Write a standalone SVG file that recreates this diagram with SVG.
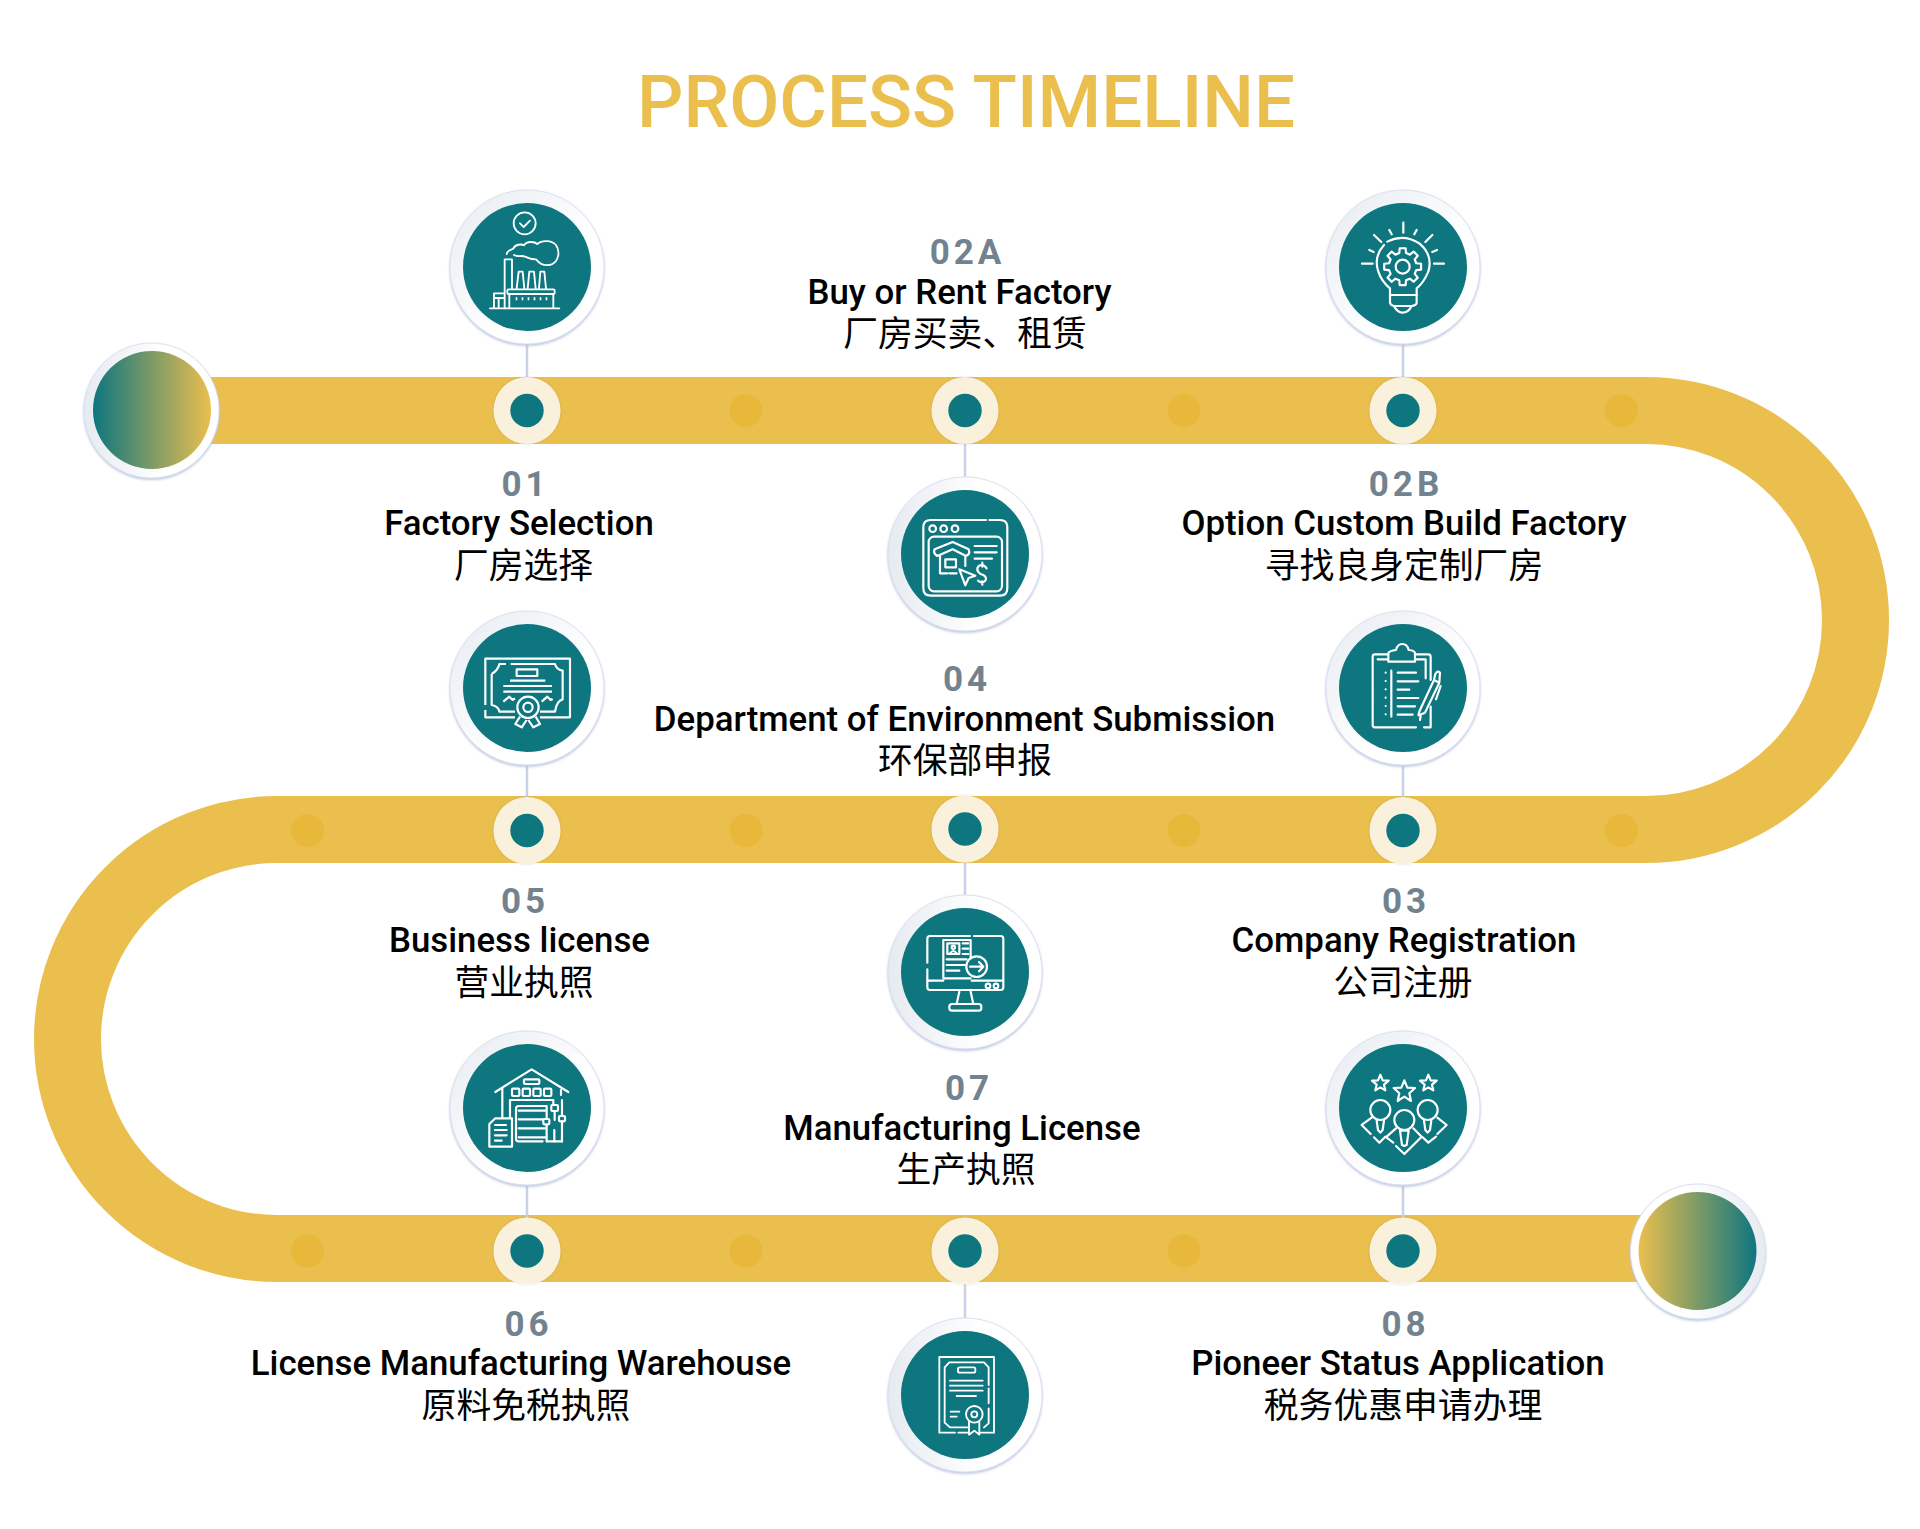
<svg xmlns="http://www.w3.org/2000/svg" width="1920" height="1529" viewBox="0 0 1920 1529">
<style>
.ring{stroke:#dbe1ef;stroke-width:1;filter:url(#sh)}
.disc{fill:#0e767f}
.cream{fill:#fbf4e2;fill-opacity:.96;filter:url(#ds)}
.pt{fill:#0e767f}
.mini{fill:#e8b83a}
.cn{stroke:#c8d1e5;stroke-width:2.5;fill:none}
.ic{fill:none;stroke:#fff;stroke-width:6.5;stroke-linecap:round;stroke-linejoin:round}
.num{font:700 35px Roboto,"Liberation Sans",sans-serif;fill:#72838f;letter-spacing:4px;text-anchor:middle}
.ttl{font:500 34.8px Roboto,"Liberation Sans",sans-serif;fill:#000;text-anchor:middle}
.zh{font:400 34.8px "Noto Sans CJK SC",sans-serif;fill:#000;text-anchor:middle}
.head{font:500 72.8px Roboto,"Liberation Sans",sans-serif;fill:#ebbf4e;text-anchor:middle}
</style>
<defs>
<linearGradient id="gd" x1="0" y1="0" x2="1" y2="1"><stop offset="0" stop-color="#e6ebf1"/><stop offset=".6" stop-color="#fff"/></linearGradient>
<linearGradient id="gh" x1="0" y1="0" x2="1" y2="0"><stop offset="0" stop-color="#e6ebf1"/><stop offset=".6" stop-color="#fff"/></linearGradient>
<linearGradient id="gr" x1="1" y1="0" x2="0" y2="0"><stop offset="0" stop-color="#e6ebf1"/><stop offset=".6" stop-color="#fff"/></linearGradient>
<linearGradient id="g1"><stop offset="0" stop-color="#0e767f"/><stop offset="1" stop-color="#ebbf4e"/></linearGradient>
<linearGradient id="g2"><stop offset="0" stop-color="#ebbf4e"/><stop offset="1" stop-color="#0e767f"/></linearGradient>
<filter id="sh" x="-10%" y="-10%" width="120%" height="125%"><feDropShadow dx="0" dy="1.5" stdDeviation="1" flood-color="#b4c0de" flood-opacity=".9"/></filter>
<filter id="ds" x="-10%" y="-10%" width="120%" height="120%"><feDropShadow dx="0" dy="0" stdDeviation="1" flood-color="#000" flood-opacity=".18"/></filter>
</defs>
<rect width="1920" height="1529" fill="#fff"/>
<text class="head" x="966" y="127">PROCESS TIMELINE</text>
<g id="track">
<path d="M150 410.5H1646A209.5 209.5 0 0 1 1646 829.5H277A209.5 209.5 0 0 0 277 1248.5H1700" fill="none" stroke="#ebbf4e" stroke-width="67"/>
<g class="mini">
<circle cx="746" cy="410.5" r="16.5"/><circle cx="1184" cy="410.5" r="16.5"/><circle cx="1621.5" cy="410.5" r="16.5"/>
<circle cx="307.5" cy="830.5" r="16.5"/><circle cx="746" cy="830.5" r="16.5"/><circle cx="1184" cy="830.5" r="16.5"/><circle cx="1621.5" cy="830.5" r="16.5"/>
<circle cx="307.5" cy="1251" r="16.5"/><circle cx="746" cy="1251" r="16.5"/><circle cx="1184" cy="1251" r="16.5"/>
</g>
</g>
<g id="connectors">
<path class="cn" d="M527 344V410M1403 344V410M965 410V477M527 765V830M1403 765V830M965 829V895M527 1185V1250M1403 1185V1250M965 1250V1318"/>
</g>
<g id="dots">
<circle class="cream" cx="527" cy="410.5" r="33.5"/><circle class="pt" cx="527" cy="410.5" r="16.7"/>
<circle class="cream" cx="965" cy="410.5" r="33.5"/><circle class="pt" cx="965" cy="410.5" r="16.7"/>
<circle class="cream" cx="1403" cy="410.5" r="33.5"/><circle class="pt" cx="1403" cy="410.5" r="16.7"/>
<circle class="cream" cx="527" cy="830.5" r="33.5"/><circle class="pt" cx="527" cy="830.5" r="16.7"/>
<circle class="cream" cx="965" cy="829" r="33.5"/><circle class="pt" cx="965" cy="829" r="16.7"/>
<circle class="cream" cx="1403" cy="830.5" r="33.5"/><circle class="pt" cx="1403" cy="830.5" r="16.7"/>
<circle class="cream" cx="527" cy="1251" r="33.5"/><circle class="pt" cx="527" cy="1251" r="16.7"/>
<circle class="cream" cx="965" cy="1251" r="33.5"/><circle class="pt" cx="965" cy="1251" r="16.7"/>
<circle class="cream" cx="1403" cy="1251" r="33.5"/><circle class="pt" cx="1403" cy="1251" r="16.7"/>
</g>
<g id="start"><circle class="ring" cx="151.5" cy="410.5" r="67.5" fill="url(#gh)"/><circle cx="152" cy="410" r="59" fill="url(#g1)"/></g>
<g id="end"><circle class="ring" cx="1698" cy="1251.5" r="67.5" fill="url(#gr)"/><circle cx="1697.5" cy="1251" r="59" fill="url(#g2)"/></g>

<g id="node-01">
<circle class="ring" cx="527" cy="267" r="77" fill="url(#gd)"/><circle class="disc" cx="527" cy="267" r="64"/>
<g class="ic" transform="translate(420 170) scale(.3333)" style="stroke-width:5.5">
<circle cx="314" cy="160" r="33"/><path d="M300 160L311 171L330 152"/>
<path d="M260 252C262 240 275 240 280 236C285 222 305 222 312 226C320 212 345 215 352 222C365 210 395 210 408 225C422 245 415 275 395 283C375 290 358 280 348 268C335 268 325 265 315 260C305 255 295 262 282 255"/>
<path d="M254 415V268H276V358M290 355L296 305H308L313 355M323 355L328 305H342L347 355M357 355L361 305H373L378 355"/>
<rect x="262" y="358" width="142" height="14" rx="4"/>
<path d="M268 372V415M400 372V415M210 415H418M222 415V384H250M222 384V370H252M236 384V415"/>
<path d="M287 386H385" stroke-dasharray="5 13" style="stroke-linecap:butt;stroke-width:9"/>
</g>
</g>
<g id="node-02a">
<circle class="ring" cx="965" cy="554" r="77" fill="url(#gh)"/><circle class="disc" cx="965" cy="554" r="64"/>
<g class="ic" transform="translate(860 460) scale(.3333)">
<path d="M378 180H212Q190 180 190 202V385Q190 407 212 407H420Q442 407 442 385V202Q442 180 420 180H388"/>
<circle cx="218" cy="206" r="10"/><circle cx="251" cy="206" r="10"/><circle cx="285" cy="206" r="10"/>
<rect x="206" y="230" width="220" height="164" rx="16"/>
<path d="M232 288Q218 280 224 268L278 246L326 268Q332 282 318 288L278 268Z"/>
<path d="M240 285V340H262M316 290V318M268 340H290"/>
<rect x="256" y="298" width="32" height="24"/>
<path d="M298 328L346 347L326 354L316 376Z"/>
<path d="M344 258H410M344 277H410M344 296H396"/>
<path d="M380 325Q372 312 360 316Q348 322 354 335Q360 343 370 345Q382 352 376 362Q366 372 354 362M367 308V320M367 364V374"/>
</g>
</g>
<g id="node-02b">
<circle class="ring" cx="1403" cy="267" r="77" fill="url(#gd)"/><circle class="disc" cx="1403" cy="267" r="64"/>
<g class="ic" transform="translate(1310 180) scale(.3333)">
<path d="M280 128V158M238 150L245 163M320 150L313 163M192 165L214 186M367 165L346 186M178 210L191 216M381 210L367 216M156 251H188M402 251H372"/>
<path d="M232 185Q280 160 328 190Q370 225 355 275Q340 310 320 325V368Q320 375 305 378Q295 398 278 398Q262 398 252 378Q240 375 240 365V325Q215 305 205 275Q190 230 222 195"/>
<path d="M240 345H320M252 378H305"/>
<circle cx="278" cy="260" r="21"/>
<polygon transform="translate(278 260)" points="40.8,-10.2 55.3,-8.8 55.3,8.8 40.8,10.2 36.1,21.6 45.3,32.9 32.9,45.3 21.6,36.1 10.2,40.8 8.8,55.3 -8.8,55.3 -10.2,40.8 -21.6,36.1 -32.9,45.3 -45.3,32.9 -36.1,21.6 -40.8,10.2 -55.3,8.8 -55.3,-8.8 -40.8,-10.2 -36.1,-21.6 -45.3,-32.9 -32.9,-45.3 -21.6,-36.1 -10.2,-40.8 -8.8,-55.3 8.8,-55.3 10.2,-40.8 21.6,-36.1 32.9,-45.3 45.3,-32.9 36.1,-21.6"/>
</g>
</g>
<g id="node-03">
<circle class="ring" cx="1403" cy="688" r="77" fill="url(#gd)"/><circle class="disc" cx="1403" cy="688" r="64"/>
<g class="ic" transform="translate(1310 600) scale(.3333)">
<path d="M318 382H195Q188 382 188 375V170Q188 163 195 163H235M315 163H355Q362 163 362 170V240M362 320V382H342M203 178H234M315 178H347V235M188 210V365M244 212V350"/>
<path d="M235 185V160Q237 152 258 150Q262 132 277 132Q292 132 296 150Q315 152 315 160V185Z"/>
<path d="M227 218V345" stroke-dasharray="0 25"/>
<path d="M263 218H318M263 244H325M263 269H298M263 294H325M263 319H315M263 344H308"/>
<path d="M372 240L388 248L345 338L328 345Q322 350 330 330ZM372 240L376 222Q384 210 390 218L388 248M392 258L378 298M332 348L330 360"/>
</g>
</g>
<g id="node-04">
<circle class="ring" cx="527" cy="688" r="77" fill="url(#gd)"/><circle class="disc" cx="527" cy="688" r="64"/>
<g class="ic" transform="translate(440 600) scale(.3333)" style="stroke-linecap:butt">
<path d="M136 315V176H390V352H300M136 330V352H225"/>
<path d="M155 222Q175 210 178 192H198M212 192H345Q350 210 368 212V298Q350 302 345 335H300M155 222V315Q175 318 178 335H225"/>
<rect x="230" y="208" width="62" height="20"/>
<path d="M210 242H316M190 258H336M190 275H336"/>
<path d="M190 305L208 290L218 300L225 295M305 305L322 290L332 300L338 297"/>
<circle cx="264" cy="322" r="32"/><circle cx="264" cy="322" r="14"/>
<path d="M240 350L226 372L245 382L260 360M287 350L300 372L280 382L265 360"/>
</g>
</g>
<g id="node-05">
<circle class="ring" cx="965" cy="972" r="77" fill="url(#gh)"/><circle class="disc" cx="965" cy="972" r="64"/>
<g class="ic" transform="translate(860 890) scale(.3333)">
<path d="M330 138H210Q202 138 202 146V218M202 238V292Q202 300 210 300H422Q430 300 430 292V146Q430 138 422 138H342M202 272H250M335 272H430"/>
<path d="M332 205V150H250V265H332"/>
<rect x="262" y="160" width="36" height="32"/><circle cx="280" cy="172" r="5"/><path d="M270 190Q280 176 290 190"/>
<path d="M308 160H325M308 176H325M308 192H325M260 208H320M260 225H315M260 242H298"/>
<circle cx="350" cy="230" r="31"/><path d="M330 230H370M357 216L370 230L357 244"/>
<circle cx="384" cy="288" r="7"/><circle cx="408" cy="288" r="7"/>
<path d="M298 305L290 342M332 305L340 342"/><rect x="268" y="342" width="96" height="20" rx="8"/>
</g>
</g>
<g id="node-06">
<circle class="ring" cx="527" cy="1108" r="77" fill="url(#gd)"/><circle class="disc" cx="527" cy="1108" r="64"/>
<g class="ic" transform="translate(440 1020) scale(.3333)">
<path d="M166 216L275 148L385 216M187 205V292M363 210V225M210 300V240H340V254"/>
<rect x="252" y="178" width="46" height="14" rx="3"/>
<rect x="216" y="206" width="22" height="22" rx="3"/><rect x="248" y="206" width="22" height="22" rx="3"/><rect x="280" y="206" width="22" height="22" rx="3"/><rect x="312" y="206" width="22" height="22" rx="3"/>
<path d="M308 364H236Q228 364 228 356V266Q228 258 236 258H320V295M320 315V364"/>
<path d="M236 272H316M236 298H310M236 325H316M236 352H316"/>
<rect x="334" y="255" width="20" height="18" rx="3"/><rect x="310" y="297" width="18" height="16" rx="3"/><rect x="357" y="288" width="18" height="16" rx="3"/>
<path d="M366 240V288M366 304V365M343 330V365M320 364H366M344 273V300"/>
<path d="M166 295H216V380H148V312Z" fill="#0e767f"/>
<path d="M165 315H198M165 330H200M165 346H200M165 362H185"/>
</g>
</g>
<g id="node-07">
<circle class="ring" cx="965" cy="1395" r="77" fill="url(#gh)"/><circle class="disc" cx="965" cy="1395" r="64"/>
<g class="ic" transform="translate(860 1310) scale(.3333)" style="stroke-width:5.5">
<path d="M285 368H238V141H402V368H362M295 368H322"/>
<path d="M386 225V172L372 157H268L254 172V338L270 352H322M386 235V280M372 352L386 340V295"/>
<rect x="294" y="172" width="52" height="16" rx="5"/>
<path d="M270 212H368M270 227H368M270 242H368M290 258H348M272 305H298M272 320H290"/>
<circle cx="343" cy="313" r="25"/><circle cx="343" cy="313" r="9"/>
<path d="M327 335V374L343 362L358 374V335"/>
</g>
</g>
<g id="node-08">
<circle class="ring" cx="1403" cy="1108" r="77" fill="url(#gd)"/><circle class="disc" cx="1403" cy="1108" r="64"/>
<g class="ic" transform="translate(1310 1020) scale(.3333)">
<polygon transform="translate(211 190)" points="0,-26 7,-9 25,-8 11,4 15,21 0,12 -15,21 -11,4 -25,-8 -7,-9"/>
<polygon transform="translate(283 215)" points="0,-34 9,-12 32,-11 15,5 20,28 0,15 -20,28 -15,5 -32,-11 -9,-12"/>
<polygon transform="translate(355 190)" points="0,-26 7,-9 25,-8 11,4 15,21 0,12 -15,21 -11,4 -25,-8 -7,-9"/>
<circle cx="211" cy="270" r="30"/><circle cx="353" cy="270" r="30"/><circle cx="283" cy="300" r="30"/>
<path d="M182 342L155 315L185 293M382 342L410 315L382 293M258 378L283 402L335 350L310 325M230 350L258 325M192 352L208 368L226 350L250 368M338 352L355 368L378 350"/>
<path d="M270 332H296L290 375L283 378L276 375ZM200 302L204 330L211 338L218 330L222 302M342 302L346 330L353 338L360 330L364 302"/>
</g>
</g>

<g id="labels">
<text class="num" x="967.5" y="264">02A</text><text class="ttl" x="959.5" y="304">Buy or Rent Factory</text><text class="zh" x="965" y="345.5">厂房买卖、租赁</text>
<text class="num" x="525.5" y="496">01</text><text class="ttl" x="519" y="535">Factory Selection</text><text class="zh" x="523.5" y="577.5">厂房选择</text>
<text class="num" x="1406" y="496">02B</text><text class="ttl" x="1404" y="535">Option Custom Build Factory</text><text class="zh" x="1404" y="577.5">寻找良身定制厂房</text>
<text class="num" x="967" y="691">04</text><text class="ttl" x="964.5" y="731">Department of Environment Submission</text><text class="zh" x="965" y="773">环保部申报</text>
<text class="num" x="525" y="913">05</text><text class="ttl" x="519.5" y="952">Business license</text><text class="zh" x="524" y="995">营业执照</text>
<text class="num" x="1406" y="913">03</text><text class="ttl" x="1404" y="952">Company Registration</text><text class="zh" x="1403" y="995">公司注册</text>
<text class="num" x="969" y="1100">07</text><text class="ttl" x="962" y="1140">Manufacturing License</text><text class="zh" x="966" y="1182">生产执照</text>
<text class="num" x="528.5" y="1336">06</text><text class="ttl" x="521" y="1375">License Manufacturing Warehouse</text><text class="zh" x="526" y="1417.5">原料免税执照</text>
<text class="num" x="1405.5" y="1336">08</text><text class="ttl" x="1398" y="1375">Pioneer Status Application</text><text class="zh" x="1403" y="1417.5">税务优惠申请办理</text>
</g>
</svg>
